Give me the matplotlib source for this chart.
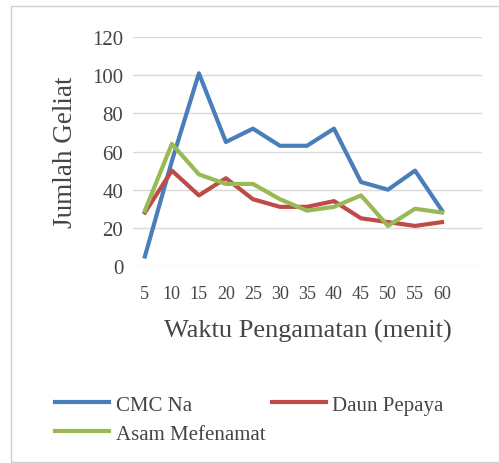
import numpy as np
import matplotlib.pyplot as plt
from matplotlib.patches import Rectangle

plt.rcParams['font.family'] = ['Liberation Serif', 'DejaVu Serif']

waktu = ["5", "10", "15", "20", "25", "30", "35", "40", "45", "50", "55", "60"]
cmc_na = [5, 55, 101, 65, 72, 63, 63, 72, 44, 40, 50, 29]
daun_pepaya = [28, 50, 37, 46, 35, 31, 31, 34, 25, 23, 21, 23]
asam_mefenamat = [29, 64, 48, 43, 43, 35, 29, 31, 37, 21, 30, 28]

fig = plt.figure(figsize=(4.99, 4.64), dpi=100)
fig.patches.append(Rectangle((0.022, 0.003), 1.0, 0.981, transform=fig.transFigure,
                             fill=False, edgecolor="#d0d0d0", lw=1))
ax = fig.add_axes([0.2665, 0.4246, 0.6995, 0.4934])

x = np.arange(len(waktu))
l1, = ax.plot(x, cmc_na, color="#4a7ebb", lw=3, label="CMC Na")
l2, = ax.plot(x, daun_pepaya, color="#be4b48", lw=3, label="Daun Pepaya")
l3, = ax.plot(x, asam_mefenamat, color="#98b954", lw=3, label="Asam Mefenamat")

ax.set_xlim(-0.44, 12.48)
ax.set_ylim(0, 120)
ax.set_yticks(range(0, 121, 20))
ax.set_xticks(x)
ax.set_xticklabels(waktu)
ax.grid(axis="y", color="#d9d9d9", lw=1)
ax.set_axisbelow(True)
for s in ax.spines.values():
    s.set_visible(False)
ax.tick_params(length=0, colors="#454545")
ax.tick_params(axis="y", pad=7, labelsize=15)
ax.tick_params(axis="x", pad=14, labelsize=13)
ax.set_xlabel("Waktu Pengamatan (menit)", fontsize=19, color="#454545", labelpad=12)
ax.set_ylabel("Jumlah Geliat", fontsize=19.5, color="#454545", labelpad=10)

fig.legend([l1, l3, l2], ["CMC Na", "Asam Mefenamat", "Daun Pepaya"],
           loc="upper left", bbox_to_anchor=(0.09, 0.169), ncol=2, frameon=False,
           borderpad=0, fontsize=15, handlelength=2.6, handletextpad=0.3,
           columnspacing=0.3, labelspacing=0.45, labelcolor="#454545")

plt.savefig("out.png")
plt.close()
